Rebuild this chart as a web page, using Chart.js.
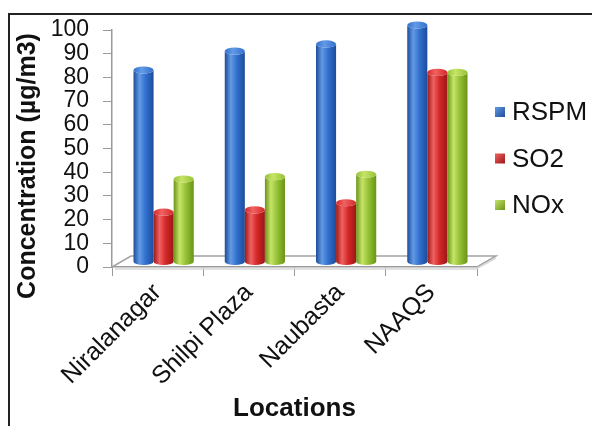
<!DOCTYPE html>
<html>
<head>
<meta charset="utf-8">
<script src="https://cdn.jsdelivr.net/npm/chart.js@4.4.0/dist/chart.umd.min.js"></script>
<style>
  html, body { margin: 0; padding: 0; background: #fff; }
</style>
</head>
<body>
<canvas id="chart" width="592" height="426"></canvas>
<script>
const locations = ["Niralanagar", "Shilpi Plaza", "Naubasta", "NAAQS"];
const seriesNames = ["RSPM", "SO2", "NOx"];
const rspm = [81, 89, 92, 100];
const so2 = [21, 22, 25, 80];
const nox = [35, 36, 37, 80];

// dark edge, mid, highlight
const shades = [
  ["#1d4c9a", "#3270cf", "#629ae4"],
  ["#9c1616", "#d42828", "#f06262"],
  ["#6a9418", "#96c236", "#c6e468"],
];

const FONT = "'Liberation Sans', Arial, sans-serif";
const OX = 6, OY = -5;    // bars sit halfway back on the floor
const DX = 19, DY = -11;  // depth of the floor

const frame = {
  id: "frame",
  beforeDraw(chart) {
    const ctx = chart.ctx;
    ctx.save();
    ctx.fillStyle = "#fff";
    ctx.fillRect(0, 0, chart.width, chart.height);
    ctx.strokeStyle = "#222";
    ctx.lineWidth = 2;
    ctx.beginPath();
    ctx.moveTo(9, chart.height);
    ctx.lineTo(9, 14);
    ctx.lineTo(chart.width, 14);
    ctx.stroke();
    ctx.restore();
  },
};

const floor3d = {
  id: "floor3d",
  beforeDatasetsDraw(chart) {
    const {ctx, chartArea: {left, right, bottom}} = chart;
    ctx.save();
    ctx.strokeStyle = "#a4a4a4";
    ctx.lineWidth = 1.5;
    ctx.beginPath();
    ctx.moveTo(left, bottom);
    ctx.lineTo(left + DX, bottom + DY);
    ctx.lineTo(right + DX, bottom + DY);
    ctx.lineTo(right, bottom);
    ctx.stroke();
    ctx.strokeStyle = "#d8d8d8";
    ctx.beginPath();
    ctx.moveTo(left + 3, bottom + 2);
    ctx.lineTo(right - 1, bottom + 2);
    ctx.lineTo(right + DX, bottom + DY + 2);
    ctx.stroke();
    ctx.restore();
  },
};

const cylinders = {
  id: "cylinders",
  afterDatasetsDraw(chart) {
    const ctx = chart.ctx;
    ctx.save();
    chart.data.datasets.forEach((ds, i) => {
      const [dark, mid, light] = shades[i];
      chart.getDatasetMeta(i).data.forEach((bar) => {
        const {x, y, base, width} = bar.getProps(["x", "y", "base", "width"], true);
        const l = x - width / 2 + OX, r = x + width / 2 + OX;
        const cx = (l + r) / 2, rx = width / 2, ry = width * 0.18;
        const t = y + OY, b = base + OY;

        const g = ctx.createLinearGradient(l, 0, r, 0);
        g.addColorStop(0, dark);
        g.addColorStop(0.3, light);
        g.addColorStop(0.6, mid);
        g.addColorStop(1, dark);
        ctx.beginPath();
        ctx.moveTo(l, t);
        ctx.lineTo(l, b);
        ctx.ellipse(cx, b, rx, ry, 0, Math.PI, 0, true);
        ctx.lineTo(r, t);
        ctx.ellipse(cx, t, rx, ry, 0, 0, Math.PI, false);
        ctx.closePath();
        ctx.fillStyle = g;
        ctx.fill();

        const c = ctx.createLinearGradient(l, 0, r, 0);
        c.addColorStop(0, mid);
        c.addColorStop(0.4, light);
        c.addColorStop(1, mid);
        ctx.beginPath();
        ctx.ellipse(cx, t, rx, ry, 0, 0, Math.PI * 2);
        ctx.fillStyle = c;
        ctx.fill();
      });
    });
    ctx.restore();
  },
};

const sideLegend = {
  id: "sideLegend",
  afterDraw(chart) {
    const ctx = chart.ctx;
    ctx.save();
    ctx.font = "26px " + FONT;
    ctx.textBaseline = "middle";
    chart.data.datasets.forEach((ds, i) => {
      const yy = 112 + i * 46.5;
      const g = ctx.createLinearGradient(495, yy - 5, 505, yy + 5);
      g.addColorStop(0, shades[i][2]);
      g.addColorStop(1, shades[i][0]);
      ctx.fillStyle = g;
      ctx.fillRect(495, yy - 5, 10, 10);
      ctx.fillStyle = "#111";
      ctx.fillText(ds.label, 512, yy + 1);
    });
    // y axis title
    ctx.fillStyle = "#111";
    ctx.font = "bold 25px " + FONT;
    ctx.textAlign = "center";
    ctx.translate(28, 166);
    ctx.rotate(-Math.PI / 2);
    ctx.fillText("Concentration (\u00b5g/m3)", 0, 0);
    ctx.restore();
  },
};

new Chart(document.getElementById("chart"), {
  type: "bar",
  data: {
    labels: locations,
    datasets: [
      {label: seriesNames[0], data: rspm},
      {label: seriesNames[1], data: so2},
      {label: seriesNames[2], data: nox},
    ].map((d) => ({...d, backgroundColor: "rgba(0,0,0,0)", borderWidth: 0,
      categoryPercentage: 0.66, barPercentage: 1.0})),
  },
  options: {
    responsive: false,
    animation: false,
    layout: {padding: {left: 6, top: 30, right: 115, bottom: 0}},
    plugins: {legend: {display: false}, tooltip: {enabled: false}},
    scales: {
      x: {
        grid: {offset: true, drawOnChartArea: false, tickLength: 9, color: "#9a9a9a"},
        border: {color: "#9a9a9a", width: 1.5},
        ticks: {
          minRotation: 45, maxRotation: 45, padding: 2,
          color: "#111", font: {family: FONT, size: 25},
        },
        title: {
          display: true, text: "Locations", color: "#111",
          font: {family: FONT, size: 26, weight: "bold"},
          padding: {top: 0, bottom: 2},
        },
        afterFit: (scale) => { scale.height = 426 - 267; },
      },
      y: {
        min: 0, max: 100,
        grid: {drawOnChartArea: false, tickLength: 9, color: "#9a9a9a"},
        border: {color: "#9a9a9a", width: 1.5},
        ticks: {
          stepSize: 10, autoSkip: false, padding: 14,
          color: "#111", font: {family: FONT, size: 23},
        },
        afterFit: (scale) => { scale.width = 106; },
      },
    },
  },
  plugins: [frame, floor3d, cylinders, sideLegend],
});
</script>
</body>
</html>
